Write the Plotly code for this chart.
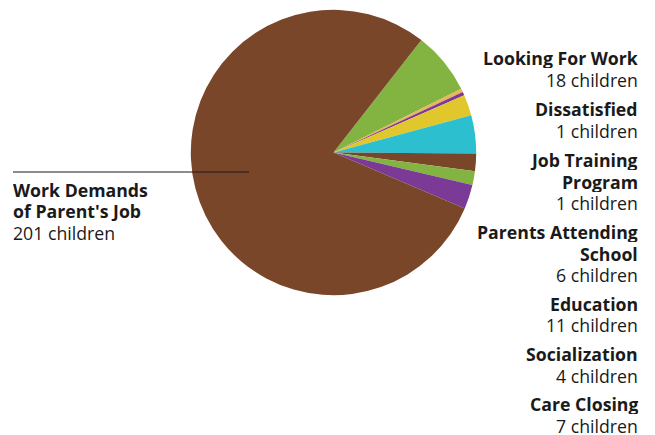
import plotly.graph_objects as go

# Data (clockwise from the green "Looking For Work" slice)
categories = ["Looking For Work", "Dissatisfied", "Job Training Program",
              "Parents Attending School", "Education", "Unlabeled",
              "Socialization", "Care Closing", "Work Demands of Parent's Job"]
children = [18, 1, 1, 6, 11, 5, 4, 7, 201]
slice_colors = ["#83B441", "#E9B65C", "#7B3A96", "#E1C72B", "#2CBFD0",
                "#7A4629", "#83B441", "#7B3A96", "#7A4629"]
# Wrapped display lines for the text labels
display_lines = {
    "Job Training Program": ["Job Training", "Program"],
    "Parents Attending School": ["Parents Attending", "School"],
    "Work Demands of Parent's Job": ["Work Demands", "of Parent's Job"],
}
right_labels = ["Looking For Work", "Dissatisfied", "Job Training Program",
                "Parents Attending School", "Education", "Socialization", "Care Closing"]
# first baseline (px) of each right-hand label block
right_baselines = [64.5, 115.5, 166.5, 238.5, 310, 360.7, 410.5]

W, H = 655, 435
cx, cy, r = 333.5, 152.5, 142.7
FS = 17.7
LINE = 21.5
BASE_TO_MID = 0.388 * FS

fig = go.Figure(go.Pie(
    labels=categories, values=children, sort=False, direction="clockwise",
    rotation=38, textinfo="none", hoverinfo="label+value",
    marker=dict(colors=slice_colors, line=dict(width=0)),
    domain=dict(x=[(cx - r) / W, (cx + r) / W], y=[1 - (cy + r) / H, 1 - (cy - r) / H]),
    showlegend=False,
))

font = dict(family="Open Sans, sans-serif", size=FS, color="#1a1a1a")
vals = dict(zip(categories, children))


def add_block(name, x_px, first_baseline, anchor):
    lines = [f"<b>{t}</b>" for t in display_lines.get(name, [name])]
    lines.append(f"{vals[name]} children")
    for i, t in enumerate(lines):
        base = first_baseline + i * LINE
        fig.add_annotation(
            x=x_px / W, y=1 - (base - BASE_TO_MID) / H, xref="paper", yref="paper",
            xanchor=anchor, yanchor="middle", align=anchor, valign="middle",
            showarrow=False, text=t, font=font, borderpad=0, borderwidth=0,
            height=LINE - 0.5,
        )


for name, b in zip(right_labels, right_baselines):
    add_block(name, 637.5, b, "right")

add_block("Work Demands of Parent's Job", 12.5, 196, "left")

fig.add_shape(type="line", xref="paper", yref="paper",
              x0=13 / W, x1=249 / W, y0=1 - 172 / H, y1=1 - 172 / H,
              line=dict(color="#1a1a1a", width=1))

fig.update_layout(width=W, height=H, margin=dict(l=0, r=0, t=0, b=0),
                  paper_bgcolor="white", plot_bgcolor="white")
fig.write_html("out.html", config={"displayModeBar": False},
               post_script="document.body.style.margin='0px';")
